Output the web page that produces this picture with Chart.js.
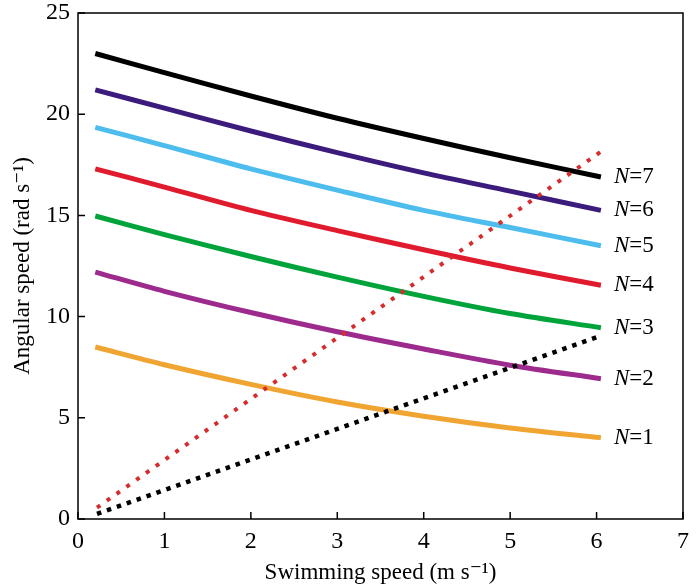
<!DOCTYPE html>
<html>
<head>
<meta charset="utf-8">
<script src="https://cdn.jsdelivr.net/npm/chart.js@4/dist/chart.umd.min.js"></script>
<style>
    html, body { margin: 0; padding: 0; background: #fff; }
    #wrap { width: 699px; height: 588px; }
</style>
</head>
<body>
<div id="wrap"><canvas id="chart" width="699" height="588"></canvas></div>
<script>
// Swimming speed (m/s) where the curves were sampled
const speeds = [0.2, 1, 2, 3, 4, 5, 6.05];

// Angular speed (rad/s) for each number of N
const n7 = [23.0, 22.05, 20.9, 19.8, 18.8, 17.85, 16.9];
const n6 = [21.2, 20.3, 19.17, 18.1, 17.1, 16.2, 15.25];
const n5 = [19.35, 18.45, 17.3, 16.25, 15.25, 14.4, 13.5];
const n4 = [17.3, 16.4, 15.25, 14.25, 13.3, 12.4, 11.55];
const n3 = [14.97, 14.05, 12.97, 11.95, 11.0, 10.15, 9.45];
const n2 = [12.2, 11.25, 10.2, 9.25, 8.4, 7.6, 6.93];
const n1 = [8.5, 7.62, 6.65, 5.78, 5.08, 4.5, 4.02];

// Dotted reference lines (end points)
const refSpeeds = [0.22, 6.05];
const refRed = [0.56, 18.15];
const refBlack = [0.25, 9.05];

const xTicks = [0, 1, 2, 3, 4, 5, 6, 7];
const yTicks = [0, 5, 10, 15, 20, 25];

const serif = '"Liberation Serif", "DejaVu Serif", serif';

function pts(xs, ys) {
    return xs.map((x, i) => ({ x: x, y: ys[i] }));
}

const curves = [
    { n: 7, data: n7, color: '#000000' },
    { n: 6, data: n6, color: '#3b1b7b' },
    { n: 5, data: n5, color: '#4dbdee' },
    { n: 4, data: n4, color: '#e11b2e' },
    { n: 3, data: n3, color: '#00a43a' },
    { n: 2, data: n2, color: '#9d2a8d' },
    { n: 1, data: n1, color: '#f0a532' }
];

const datasets = curves.map(c => ({
    label: 'N=' + c.n,
    data: pts(speeds, c.data),
    borderColor: c.color,
    borderWidth: 5,
    pointRadius: 0,
    tension: 0.3,
    order: 2
}));

datasets.push({
    label: 'ref red',
    data: pts(refSpeeds, refRed),
    borderColor: '#d42d2d',
    borderWidth: 4,
    borderDash: [4, 8],
    borderCapStyle: 'butt',
    pointRadius: 0,
    order: 1
});
datasets.push({
    label: 'ref black',
    data: pts(refSpeeds, refBlack),
    borderColor: '#000000',
    borderWidth: 4.5,
    borderDash: [4.5, 6],
    borderCapStyle: 'butt',
    pointRadius: 0,
    order: 0
});

// Frame and inward ticks
const framePlugin = {
    id: 'frame',
    afterDraw(chart) {
        const ctx = chart.ctx;
        const a = chart.chartArea;
        const xs = chart.scales.x;
        const ys = chart.scales.y;
        ctx.save();
        ctx.strokeStyle = '#000';
        ctx.lineWidth = 1.5;
        ctx.strokeRect(a.left, a.top, a.right - a.left, a.bottom - a.top);
        ctx.beginPath();
        xTicks.forEach(v => {
            const px = xs.getPixelForValue(v);
            ctx.moveTo(px, a.bottom);
            ctx.lineTo(px, a.bottom - 7);
        });
        yTicks.forEach(v => {
            const py = ys.getPixelForValue(v);
            ctx.moveTo(a.left, py);
            ctx.lineTo(a.left + 7, py);
        });
        ctx.stroke();
        ctx.restore();
    }
};

// N=k labels at the end of each curve
const labelPlugin = {
    id: 'endLabels',
    afterDatasetsDraw(chart) {
        const ctx = chart.ctx;
        ctx.save();
        ctx.fillStyle = '#000';
        ctx.textBaseline = 'middle';
        curves.forEach((c, i) => {
            const meta = chart.getDatasetMeta(i);
            const last = meta.data[meta.data.length - 1];
            const x = last.x + 13;
            const y = last.y;
            ctx.font = 'italic 23px ' + serif;
            ctx.fillText('N', x, y);
            const w = ctx.measureText('N').width;
            ctx.font = '23px ' + serif;
            ctx.fillText('=' + c.n, x + w, y);
        });
        ctx.restore();
    }
};

new Chart(document.getElementById('chart'), {
    type: 'line',
    data: { datasets: datasets },
    options: {
        responsive: false,
        animation: false,
        layout: { padding: { top: 13, right: 16, left: 0, bottom: 0 } },
        plugins: {
            legend: { display: false },
            tooltip: { enabled: false }
        },
        scales: {
            x: {
                type: 'linear',
                min: 0,
                max: 7,
                grid: { display: false, drawTicks: false, tickLength: 0 },
                border: { display: false },
                afterFit(scale) {
                    scale.height = 69;
                    scale.paddingLeft = 0;
                    scale.paddingRight = 0;
                },
                afterBuildTicks(scale) { scale.ticks = xTicks.map(v => ({ value: v })); },
                ticks: {
                    color: '#000',
                    padding: 8,
                    maxRotation: 0,
                    font: { family: serif, size: 24 }
                },
                title: {
                    display: true,
                    text: 'Swimming speed (m s⁻¹)',
                    color: '#000',
                    padding: { top: 0, bottom: 1 },
                    font: { family: serif, size: 23 }
                }
            },
            y: {
                type: 'linear',
                min: 0,
                max: 25,
                grid: { display: false, drawTicks: false, tickLength: 0 },
                border: { display: false },
                afterFit(scale) {
                    scale.width = 78;
                    scale.paddingTop = 0;
                    scale.paddingBottom = 0;
                },
                afterBuildTicks(scale) { scale.ticks = yTicks.map(v => ({ value: v })); },
                ticks: {
                    color: '#000',
                    padding: 8,
                    font: { family: serif, size: 24 }
                },
                title: {
                    display: true,
                    text: 'Angular speed (rad s⁻¹)',
                    color: '#000',
                    padding: { top: 9, bottom: 0 },
                    font: { family: serif, size: 23 }
                }
            }
        }
    },
    plugins: [framePlugin, labelPlugin]
});
</script>
</body>
</html>
